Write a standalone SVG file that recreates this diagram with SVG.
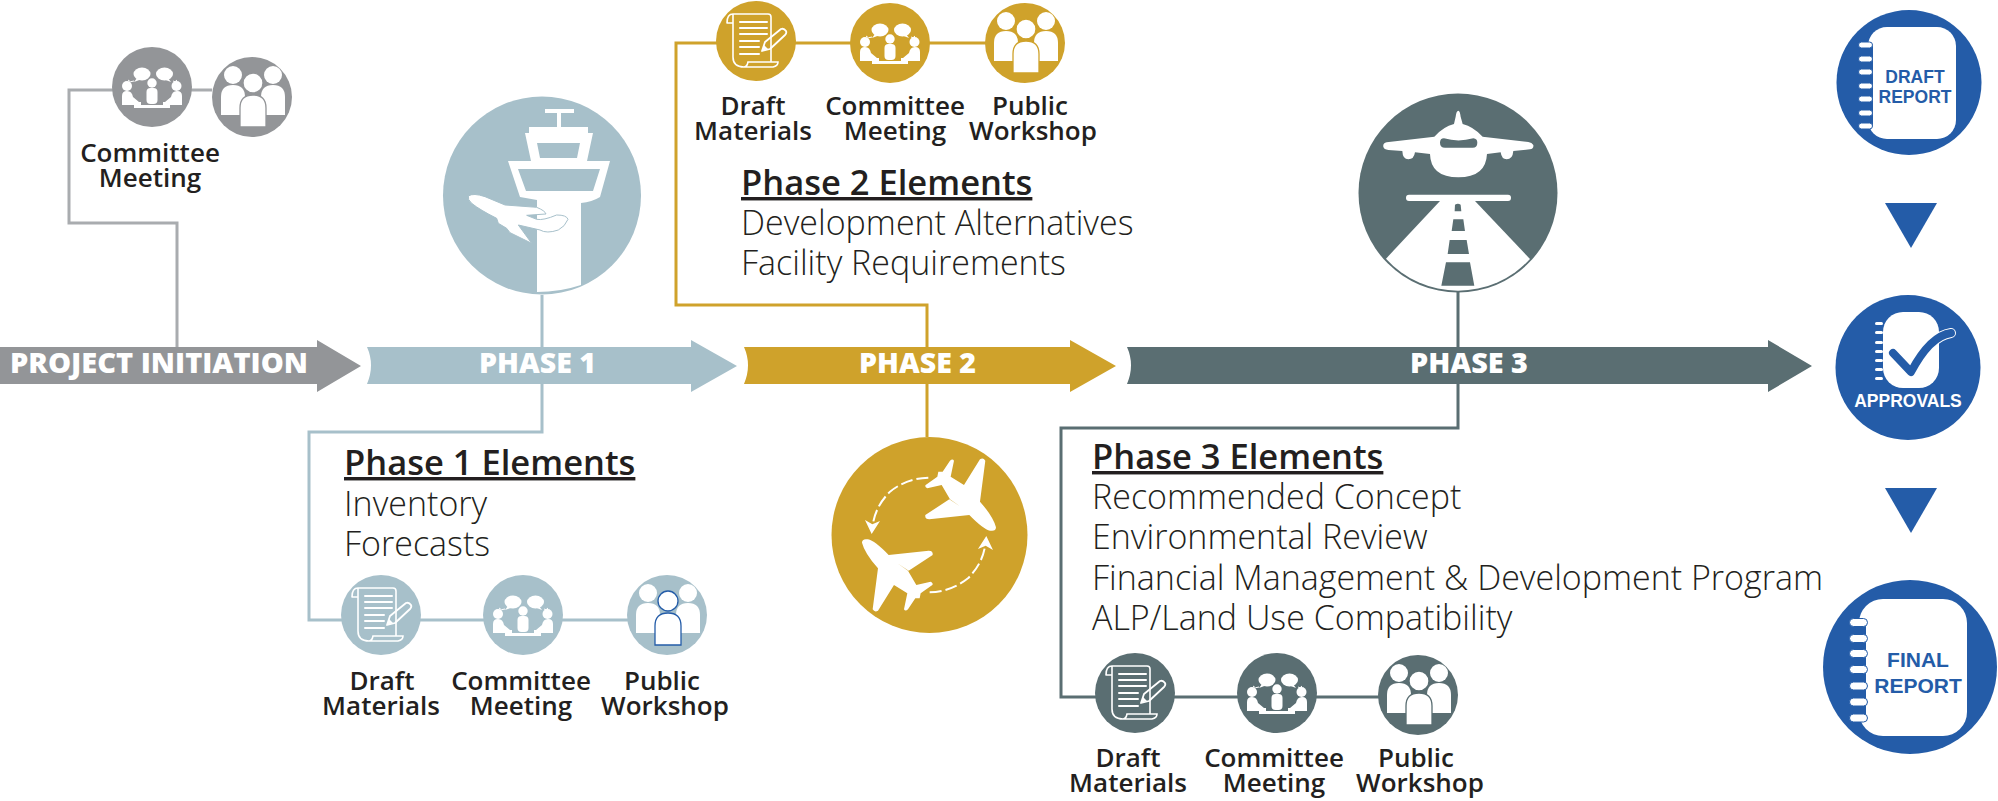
<svg xmlns="http://www.w3.org/2000/svg" xmlns:xlink="http://www.w3.org/1999/xlink" width="1998" height="801" viewBox="0 0 1998 801">
<style>
.lbl{font:600 26px "Open Sans",sans-serif;fill:#231f20;text-anchor:middle}
.hd{font:600 34.5px "Open Sans",sans-serif;fill:#231f20;text-decoration:underline}
.it{font:300 34px "Open Sans",sans-serif;fill:#231f20}
.ph{font:800 28px "Open Sans",sans-serif;fill:#fff}
.rp{font-family:"Liberation Sans",Arial,sans-serif;font-weight:700;text-anchor:middle;fill:#245ca8}
.ln{fill:none;stroke-width:3}
.gray{color:#939598}.sky{color:#a7c0ca}.gold{color:#cfa22b}.slate{color:#5a6e72}
.blue{fill:#245ca8}.wh{fill:#fff}
.pill{fill:#fff;stroke:#245ca8;stroke-width:1}
</style>
<defs>
<g id="draft">
<circle r="40" fill="currentColor"/>
<g fill="none" stroke="#fff" stroke-width="1.6" stroke-linecap="round">
<path d="M-29,-18C-29,-24-27,-27-23,-27H12Q15,-27 15,-24V20M-29,-18H-23M-23,-27Q-23,-24-23,-20V16Q-23,26-12,26H17Q22,25 22,21H-8Q-9,26-12,26"/>
</g>
<g stroke="#fff" stroke-width="2" stroke-linecap="round">
<path d="M-16,-19H11M-16,-13H11M-16,-7H11M-16,0H3M-16,6H3M-16,13H3"/>
</g>
<path d="M6,10L9,1L25,-12Q28,-13 30,-10Q31,-8 29,-6L14,8Z" fill="none" stroke="#fff" stroke-width="1.8" stroke-linejoin="round"/>
<path d="M6,10L8,4L12,8Z" fill="#fff"/>
</g>
<g id="committee">
<circle r="40" fill="currentColor"/>
<g fill="#fff">
<ellipse cx="-10" cy="-13" rx="8.5" ry="6.5"/><path d="M-15,-9L-18,-5L-10,-8Z"/>
<ellipse cx="12.500" cy="-13" rx="8.500" ry="6.500"/><path d="M16,-9L19,-5L11,-8Z"/>
<circle cy="-4" r="4.700"/><rect x="-5.500" y="1" width="11" height="16" rx="4"/>
<circle cx="-25" cy="-1" r="5"/><path d="M-30,18V9Q-30,4-25,4Q-20,4-19,10L-13,15H-11V18Z"/>
<circle cx="24.500" cy="-1" r="5"/><path d="M30,18V9Q30,4 25,4Q20,4 19,10L13,15H11V18Z"/>
<rect x="-18" y="18" width="36" height="3"/>
</g>
<path d="M-18,-6Q-22,-4-24,-7M21,-6Q23,-4 25,-7" fill="none" stroke="#fff" stroke-width="1"/>
</g>
<g id="workshop">
<circle r="40" fill="currentColor"/>
<g fill="#fff">
<circle cx="-19" cy="-22" r="9"/><path d="M-31,18V0Q-31,-12-19,-12Q-7,-12-7,0V18Z"/>
<circle cx="21" cy="-22" r="9"/><path d="M33,18V0Q33,-12 21,-12Q9,-12 9,0V18Z"/>
</g>
<g fill="#fff" stroke="var(--ring,currentColor)" stroke-width="1.300">
<circle cx="1" cy="-14" r="10"/>
<path d="M-12,30V11Q-12,-2 1,-2Q14,-2 14,11V30Z"/>
</g>
</g>
</defs>

<g id="connectors">
<path class="ln" stroke="#a9acaf" d="M212,90H69V223H177V347"/>
<path class="ln" stroke="#a7c0ca" d="M542,295V347M542,384V432H309V620H667"/>
<path class="ln" stroke="#cfa22b" d="M927,347V305H676V43H1025M927,384V437"/>
<path class="ln" stroke="#5a6e72" d="M1458,292V347M1458,384V428H1061V697H1418"/>
</g>

<g id="project-initiation">
<path d="M0,347H317V340L361,366L317,392V384H0Z" fill="#939598"/>
<text class="ph" x="10" y="373" textLength="298" lengthAdjust="spacingAndGlyphs">PROJECT INITIATION</text>
</g>
<g id="phase-1-bar">
<path d="M367,347H691V340L737,366L691,392V384H367Q375,365 367,347Z" fill="#a7c0ca"/>
<text class="ph" x="479" y="373" textLength="117" lengthAdjust="spacingAndGlyphs">PHASE 1</text>
</g>
<g id="phase-2-bar">
<path d="M744,347H1070V340L1116,366L1070,392V384H744Q752,365 744,347Z" fill="#cfa22b"/>
<text class="ph" x="859" y="373" textLength="117" lengthAdjust="spacingAndGlyphs">PHASE 2</text>
</g>
<g id="phase-3-bar">
<path d="M1127,347H1768V340L1812,366L1768,392V384H1127Q1135,365 1127,347Z" fill="#5a6e72"/>
<text class="ph" x="1410" y="373" textLength="118" lengthAdjust="spacingAndGlyphs">PHASE 3</text>
</g>

<g id="initiation-meeting" class="gray">
<use href="#committee" x="152" y="87"/>
<text class="lbl" x="150" y="162">Committee</text>
<text class="lbl" x="150" y="187">Meeting</text>
</g>
<g id="initiation-workshop" class="gray"><use href="#workshop" x="252" y="97"/></g>

<g id="tower-badge">
<circle cx="542" cy="195.500" r="99" fill="#a7c0ca"/>
<path class="wh" d="M545,109H574V113H561V127H588V133H593L587,161H610L600,197Q592,202 581,203V285Q560,292 537,292V200L520,197L508,161H531L525,133H529V127H557V113H545Z"/>
<path d="M537,143H580L577,158H540ZM518,169H600L593,191H526Z" fill="#a7c0ca"/>
<g transform="translate(430,90) scale(.3333)">
<path class="wh" stroke="#a7c0ca" stroke-width="3" d="M115,318Q130,308 165,320L225,345L320,352Q345,362 348,372L290,376L320,388Q340,392 380,375Q410,375 414,388Q405,410 385,420Q350,432 330,420L265,405L305,460L240,428L230,415L205,400L200,385Q150,360 125,340Q112,328 115,318Z"/>
</g>
</g>

<g id="phase-1-draft" class="sky">
<use href="#draft" x="381" y="615"/>
<text class="lbl" x="382" y="690">Draft</text>
<text class="lbl" x="381" y="715">Materials</text>
</g>
<g id="phase-1-meeting" class="sky">
<use href="#committee" x="523" y="615"/>
<text class="lbl" x="521" y="690">Committee</text>
<text class="lbl" x="521" y="715">Meeting</text>
</g>
<g id="phase-1-workshop" class="sky" style="--ring:#245ca8">
<use href="#workshop" x="667" y="615"/>
<text class="lbl" x="662" y="690">Public</text>
<text class="lbl" x="665" y="715">Workshop</text>
</g>
<g id="phase-1-elements">
<text class="hd" x="344" y="475">Phase 1 Elements</text>
<text class="it" x="344" y="516">Inventory</text>
<text class="it" x="344" y="556">Forecasts</text>
</g>

<g id="phase-2-draft" class="gold">
<use href="#draft" x="756" y="41"/>
<text class="lbl" x="753" y="115">Draft</text>
<text class="lbl" x="753" y="140">Materials</text>
</g>
<g id="phase-2-meeting" class="gold">
<use href="#committee" x="890" y="43"/>
<text class="lbl" x="895" y="115">Committee</text>
<text class="lbl" x="895" y="140">Meeting</text>
</g>
<g id="phase-2-workshop" class="gold">
<use href="#workshop" x="1025" y="43"/>
<text class="lbl" x="1030" y="115">Public</text>
<text class="lbl" x="1033" y="140">Workshop</text>
</g>
<g id="phase-2-elements">
<text class="hd" x="741" y="195">Phase 2 Elements</text>
<text class="it" x="741" y="235">Development Alternatives</text>
<text class="it" x="741" y="275">Facility Requirements</text>
</g>

<g id="swap-badge">
<circle cx="929.500" cy="535" r="98" fill="#cfa22b"/>
<g transform="translate(810,420) scale(.3333)">
<g id="swap-half">
<path class="wh" d="M558,322Q558,335 540,332Q520,328 478,285L358,298Q344,298 346,285L418,238L452,260L420,238L395,195L352,205Q343,200 347,195L382,170L385,155H398L420,122Q428,115 432,122L422,170L462,195L510,118Q520,112 526,122L510,245Q550,290 558,322Z"/>
<path d="M355,173Q290,175 240,215Q200,255 190,305" fill="none" stroke="#fff" stroke-width="6" stroke-dasharray="36,12"/>
<path class="wh" d="M165,300L185,342L210,303L187,313Z"/>
</g>
<use href="#swap-half" transform="rotate(180 357 345)"/>
</g>
</g>

<g id="phase-3-elements">
<text class="hd" x="1092" y="469">Phase 3 Elements</text>
<text class="it" x="1092" y="509">Recommended Concept</text>
<text class="it" x="1092" y="549">Environmental Review</text>
<text class="it" x="1092" y="590">Financial Management &amp; Development Program</text>
<text class="it" x="1092" y="630">ALP/Land Use Compatibility</text>
</g>

<g id="runway-badge">
<circle cx="1458" cy="193" r="99.500" fill="#5a6e72"/>
<g transform="translate(1340,100) scale(.3333)">
<path class="wh" d="M355,32Q349,32 347,50L342,72Q310,80 283,110L140,127Q128,130 130,140Q132,148 145,150L187,153Q188,178 205,178Q222,178 225,157L270,162Q272,232 355,232Q438,232 441,162L482,157Q485,178 500,178Q518,178 520,153L570,148Q582,145 580,135Q576,128 565,126L428,110Q400,80 368,72L362,50Q360,32 355,32Z"/>
<path d="M300,128Q300,115 312,115Q355,128 400,115Q412,116 412,128Q412,143 398,143H315Q300,143 300,128Z" fill="#5a6e72"/>
<rect class="wh" x="198" y="284" width="315" height="19" rx="9"/>
<path class="wh" d="M300,303L138,476A292,292 0 0 0 570,477L405,303Z"/>
<path fill="#5a6e72" d="M345,314Q354,308 362,314L364,334H344ZM340,358H370L375,393H335ZM329,420H380L387,462H323ZM318,487H390L403,557H304Z"/>
</g>
</g>

<g id="phase-3-draft" class="slate">
<use href="#draft" x="1135" y="693"/>
<text class="lbl" x="1128" y="767">Draft</text>
<text class="lbl" x="1128" y="792">Materials</text>
</g>
<g id="phase-3-meeting" class="slate">
<use href="#committee" x="1277" y="693"/>
<text class="lbl" x="1274" y="767">Committee</text>
<text class="lbl" x="1274" y="792">Meeting</text>
</g>
<g id="phase-3-workshop" class="slate">
<use href="#workshop" x="1418" y="695"/>
<text class="lbl" x="1416" y="767">Public</text>
<text class="lbl" x="1420" y="792">Workshop</text>
</g>

<g id="draft-report">
<circle class="blue" cx="1909" cy="82.500" r="72.500"/>
<rect class="wh" x="1868" y="27" width="88" height="112" rx="19"/>
<rect class="blue" x="1858" y="46" width="15" height="80"/>
<g class="pill">
<rect x="1858.500" y="42" width="14" height="6" rx="3"/><rect x="1858.500" y="56" width="14" height="6" rx="3"/><rect x="1858.500" y="69" width="14" height="6" rx="3"/><rect x="1858.500" y="83" width="14" height="6" rx="3"/><rect x="1858.500" y="96" width="14" height="6" rx="3"/><rect x="1858.500" y="110" width="14" height="6" rx="3"/><rect x="1858.500" y="123" width="14" height="6" rx="3"/>
</g>
<text class="rp" x="1915" y="83" font-size="17.500">DRAFT</text>
<text class="rp" x="1915" y="103" font-size="17.500">REPORT</text>
</g>
<path id="step-down-1" class="blue" d="M1885,203H1937L1911,248Z"/>
<g id="approvals">
<circle class="blue" cx="1908" cy="367.500" r="72.500"/>
<rect class="wh" x="1883" y="312" width="56" height="76" rx="20"/>
<g class="wh">
<rect x="1875" y="322" width="8" height="3" rx="1.500"/><rect x="1875" y="331" width="8" height="3" rx="1.500"/><rect x="1875" y="341" width="8" height="3" rx="1.500"/><rect x="1875" y="350" width="8" height="3" rx="1.500"/><rect x="1875" y="359" width="8" height="3" rx="1.500"/><rect x="1875" y="368" width="8" height="3" rx="1.500"/><rect x="1875" y="377" width="8" height="3" rx="1.500"/>
</g>
<path d="M1893,353L1911,372Q1930,336 1951,333" fill="none" stroke="#fff" stroke-width="10" stroke-linecap="round" stroke-linejoin="round"/>
<path d="M1893,353L1911,372Q1930,336 1951,333" fill="none" stroke="#245ca8" stroke-width="8" stroke-linecap="round" stroke-linejoin="round"/>
<text class="rp" x="1908" y="407" font-size="17.500" style="fill:#fff">APPROVALS</text>
</g>
<path id="step-down-2" class="blue" d="M1885,488H1937L1911,533Z"/>
<g id="final-report">
<circle class="blue" cx="1910" cy="667" r="87"/>
<rect class="wh" x="1859" y="599" width="108" height="137" rx="24"/>
<rect class="blue" x="1849" y="624" width="9" height="96"/>
<rect class="blue" x="1858" y="624" width="8" height="96"/>
<g class="pill">
<rect x="1849.500" y="618.500" width="18" height="8" rx="4"/><rect x="1849.500" y="634.500" width="18" height="8" rx="4"/><rect x="1849.500" y="649.500" width="18" height="8" rx="4"/><rect x="1849.500" y="665.500" width="18" height="8" rx="4"/><rect x="1849.500" y="682" width="18" height="8" rx="4"/><rect x="1849.500" y="698" width="18" height="8" rx="4"/><rect x="1849.500" y="714" width="18" height="8" rx="4"/>
</g>
<text class="rp" x="1918" y="667" font-size="21">FINAL</text>
<text class="rp" x="1918" y="693" font-size="21">REPORT</text>
</g>
</svg>
